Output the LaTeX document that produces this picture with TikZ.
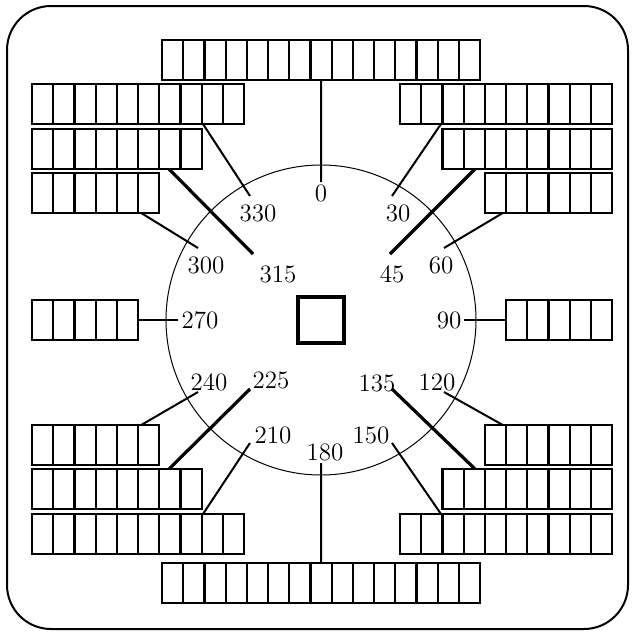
\documentclass[tikz,border=0pt]{standalone}
\usepackage{tikz}
\usetikzlibrary{positioning}

\tikzset{
  rowbox/.style={draw, line width=1.1pt, inner sep=0pt, outer sep=0pt, minimum height=20pt},
  cellline/.style={line width=1.1pt},
  wire/.style={line width=1pt},
  thickwire/.style={line width=1.6pt},
  deg/.style={inner sep=0pt, font=\fontsize{12.5}{14}\selectfont}
}

% one row of slots: name, left x, top y, number of cells
\newcommand{\cellrow}[4]{%
  \node[rowbox, minimum width=#4*10.6pt, anchor=north west] (#1) at (#2,#3) {};
  \pgfmathtruncatemacro{\lastcell}{#4-1}
  \foreach \k in {1,...,\lastcell}
    \draw[cellline] ([xshift=\k*10.6pt]#1.north west) -- ([xshift=\k*10.6pt]#1.south west);
}

\begin{document}
\begin{tikzpicture}[x=0.5pt, y=-0.5pt]
\useasboundingbox (0,0) rectangle (632,632);

% Frame
\draw[line width=1pt, rounded corners=22pt] (7,6) rectangle (628,629);

% Dial
\draw[line width=0.5pt] (321,320) circle (77.5pt);
\node[draw, line width=1.6pt, minimum size=23pt, inner sep=0pt] (hub) at (321,320) {};

% Top and bottom rows
\cellrow{top}{162}{40}{15}
\cellrow{bot}{162}{563}{15}

% Left rows
\cellrow{L1}{32}{84}{10}
\cellrow{L2}{32}{129}{8}
\cellrow{L3}{32}{173}{6}
\cellrow{L4}{32}{300}{5}
\cellrow{L5}{32}{425}{6}
\cellrow{L6}{32}{469}{8}
\cellrow{L7}{32}{514}{10}

% Right rows
\cellrow{R1}{400}{84}{10}
\cellrow{R2}{442.4}{129}{8}
\cellrow{R3}{484.8}{173}{6}
\cellrow{R4}{506}{300}{5}
\cellrow{R5}{484.8}{425}{6}
\cellrow{R6}{442.4}{469}{8}
\cellrow{R7}{400}{514}{10}

% Angle labels
\node[deg] (d0) at (321,193) {0};
\node[deg] (d30) at (398,213) {30};
\node[deg] (d45) at (392,274) {45};
\node[deg] (d60) at (441,265) {60};
\node[deg] (d90) at (449,320) {90};
\node[deg] (d120) at (437,382) {120};
\node[deg] (d135) at (377,383) {135};
\node[deg] (d150) at (371,435) {150};
\node[deg] (d180) at (325,452) {180};
\node[deg] (d210) at (273,435) {210};
\node[deg] (d225) at (271,380) {225};
\node[deg] (d240) at (209,382) {240};
\node[deg] (d270) at (200,320) {270};
\node[deg] (d300) at (206,265) {300};
\node[deg] (d315) at (278,274) {315};
\node[deg] (d330) at (258,213) {330};

% Line ends
\coordinate (e0) at (321,182);
\coordinate (e30) at (392,196);
\coordinate (e45) at (390,254);
\coordinate (e60) at (444,248);
\coordinate (e90) at (464,320);
\coordinate (e120) at (444,392);
\coordinate (e135) at (392,389);
\coordinate (e150) at (392,443);
\coordinate (e180) at (321,463);
\coordinate (e210) at (250,443);
\coordinate (e225) at (250,389);
\coordinate (e240) at (198,392);
\coordinate (e270) at (178,320);
\coordinate (e300) at (198,248);
\coordinate (e315) at (253,254);
\coordinate (e330) at (250,196);

% Connectors
\draw[wire] (top.south) -- (e0);
\draw[wire] ([xshift=20.5pt]R1.south west) -- (e30);
\draw[thickwire] ([xshift=16.3pt]R2.south west) -- (e45);
\draw[wire] ([xshift=9pt]R3.south west) -- (e60);
\draw[wire] (R4.west) -- (e90);
\draw[wire] ([xshift=9pt]R5.north west) -- (e120);
\draw[thickwire] ([xshift=16.3pt]R6.north west) -- (e135);
\draw[wire] ([xshift=20.5pt]R7.north west) -- (e150);
\draw[wire] (bot.north) -- (e180);
\draw[wire] ([xshift=-20.5pt]L7.north east) -- (e210);
\draw[thickwire] ([xshift=-16.3pt]L6.north east) -- (e225);
\draw[wire] ([xshift=-9pt]L5.north east) -- (e240);
\draw[wire] (L4.east) -- (e270);
\draw[wire] ([xshift=-9pt]L3.south east) -- (e300);
\draw[thickwire] ([xshift=-16.3pt]L2.south east) -- (e315);
\draw[wire] ([xshift=-20.5pt]L1.south east) -- (e330);
\end{tikzpicture}
\end{document}
